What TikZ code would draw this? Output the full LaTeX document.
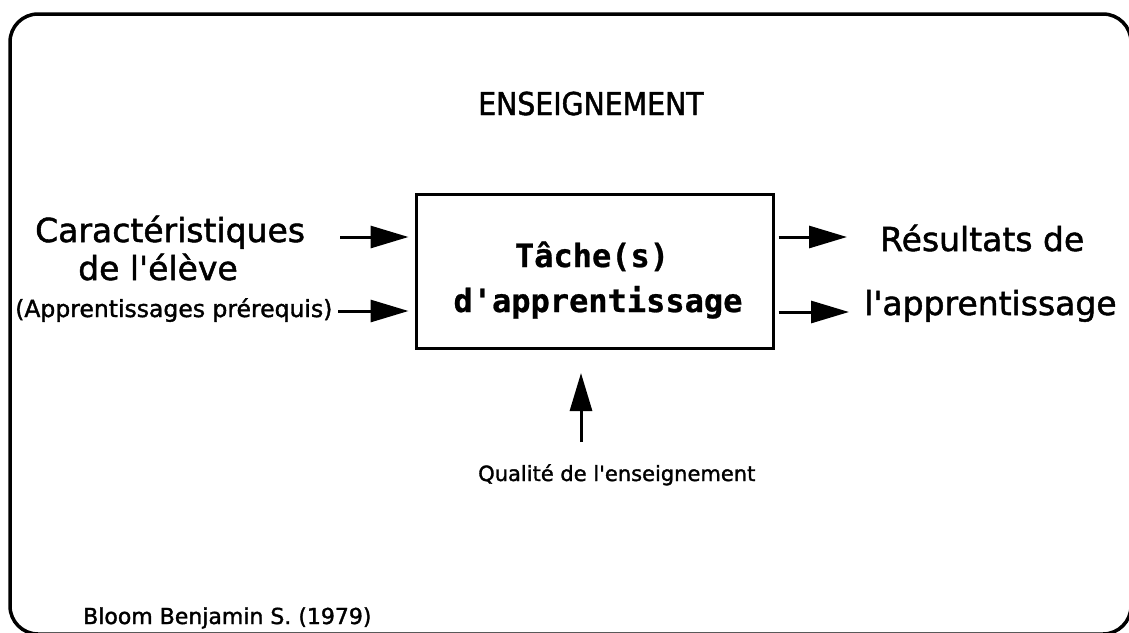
\documentclass[tikz,border=0pt]{standalone}
\usepackage{fontspec}
\setmainfont[FakeBold=1.5]{DejaVu Sans}
\newfontfamily\headfont[FakeStretch=0.9,FakeBold=1.5]{DejaVu Sans}
\newfontfamily\boxfont[FakeBold=0.8]{DejaVu Sans Mono Bold}
\usetikzlibrary{arrows.meta}
\begin{document}
\begin{tikzpicture}[x=1pt,y=-1pt,
  lbl/.style={inner sep=0pt, anchor=base west, font=\fontsize{33}{33}\selectfont},
  boxtxt/.style={inner sep=0pt, anchor=base, font=\boxfont\fontsize{32}{32}\selectfont},
  arr/.style={line width=3pt, -{Triangle[length=38pt,width=22pt]}},
]
\clip (0,0) rectangle (1129,632);
\fill[white] (0,0) rectangle (1129,632);
% outer frame
\draw[line width=3.5pt, rounded corners=28pt] (10,14) rectangle (1131,634);

% title
\node[inner sep=0pt, anchor=base west, font=\headfont\fontsize{31.5}{31.5}\selectfont] (ens) at (478,115) {ENSEIGNEMENT};

% central box
\node[draw, line width=3pt, minimum width=357pt, minimum height=154pt, inner sep=0pt] (box) at (594.5,271) {};
\node[boxtxt] (t1) at (592,267) {Tâche(s)};
\node[boxtxt] (t2) at (598,312) {d\textquotesingle apprentissage};

% inputs
\node[lbl] (car) at (35,242) {Caractéristiques};
\node[lbl] (eleve) at (78,280) {de l\textquotesingle élève};
\node[lbl, font=\fontsize{23.5}{24}\selectfont] (pre) at (15,317) {(Apprentissages prérequis)};

% outputs
\node[lbl] (res) at (880,251) {Résultats de};
\node[lbl] (app) at (864,315) {l\textquotesingle apprentissage};

% teaching quality
\node[lbl, font=\fontsize{21}{21}\selectfont] (qual) at (478,481) {Qualité de l\textquotesingle enseignement};

% reference
\node[lbl, font=\fontsize{22}{22}\selectfont] (bloom) at (83,624) {Bloom Benjamin S. (1979)};

% connectors
\coordinate (a1) at (340,237);
\coordinate (a2) at (338,311);
\coordinate (b1) at (847,237);
\coordinate (b2) at (849,312);
\coordinate (q1) at (581,442);
\coordinate (q2) at (581,373);
\draw[arr, shorten >=6pt] (a1) -- (a1 -| box.west);
\draw[arr, shorten >=6pt] (a2) -- (a2 -| box.west);
\draw[arr, shorten <=4pt] (b1 -| box.east) -- (b1);
\draw[arr, shorten <=4pt] (b2 -| box.east) -- (b2);
\draw[arr] (q1) -- (q2);
\end{tikzpicture}
\end{document}
